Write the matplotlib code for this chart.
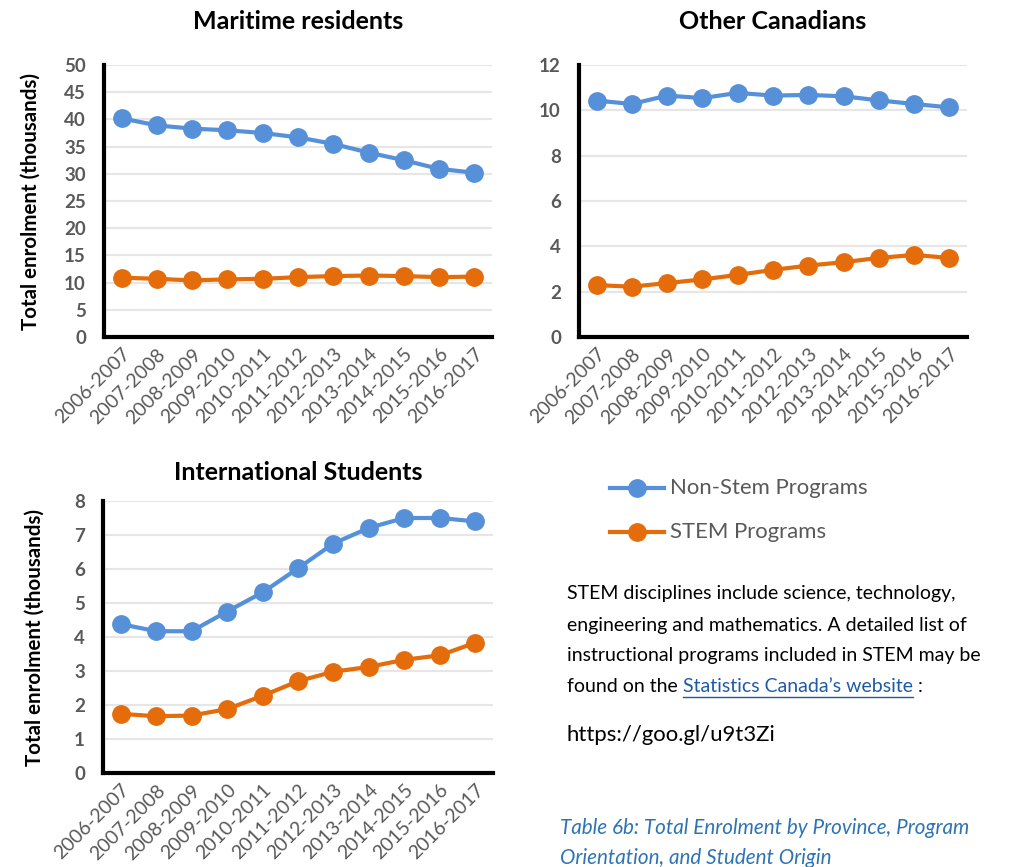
import matplotlib
matplotlib.use("Agg")
import matplotlib.pyplot as plt
from matplotlib.lines import Line2D

years = ["2006-2007", "2007-2008", "2008-2009", "2009-2010", "2010-2011", "2011-2012",
         "2012-2013", "2013-2014", "2014-2015", "2015-2016", "2016-2017"]

maritime_nonstem = [40.2, 38.9, 38.3, 38.0, 37.5, 36.7, 35.5, 33.9, 32.5, 30.9, 30.2]
maritime_stem = [10.9, 10.7, 10.4, 10.6, 10.7, 11.0, 11.2, 11.3, 11.2, 11.0, 11.1]

other_nonstem = [10.43, 10.28, 10.65, 10.54, 10.77, 10.65, 10.68, 10.62, 10.44, 10.28, 10.13]
other_stem = [2.29, 2.22, 2.38, 2.54, 2.74, 2.96, 3.15, 3.30, 3.49, 3.62, 3.49]

intl_nonstem = [4.38, 4.17, 4.17, 4.75, 5.31, 6.02, 6.75, 7.21, 7.50, 7.50, 7.40]
intl_stem = [1.74, 1.67, 1.69, 1.88, 2.27, 2.70, 2.98, 3.12, 3.33, 3.46, 3.83]

series_names = ["Non-Stem Programs", "STEM Programs"]
BLUE = "#5590D8"
ORANGE = "#E46C0A"
GRAY = "#595959"
FONT = ["Lato", "DejaVu Sans"]

plt.rcParams['font.family'] = FONT

W, H = 1009, 867
fig = plt.figure(figsize=(W / 100, H / 100), dpi=100)


def fx(x):
    return x / W


def fy(y):
    return 1 - y / H


def panel(rect_px, title, nonstem, stem, ymax, ystep, ylabel, title_pad):
    l, t, r, b = rect_px
    ax = fig.add_axes([fx(l), fy(b), fx(r - l), (b - t) / H])
    xs = list(range(len(years)))
    for vals, c in ((nonstem, BLUE), (stem, ORANGE)):
        ax.plot(xs, vals, color=c, lw=3, marker="o", ms=12.5, zorder=3, clip_on=False)
    ax.set_xlim(-0.5, len(years) - 0.5)
    ax.set_ylim(0, ymax)
    ticks = list(range(0, ymax + 1, ystep))
    ax.set_yticks(ticks)
    ax.set_yticklabels([str(t) for t in ticks], fontsize=13.5, fontweight="bold", color=GRAY)
    ax.set_xticks(xs)
    ax.set_xticklabels(years, rotation=45, ha="right", rotation_mode="anchor",
                       fontsize=14, color=GRAY)
    ax.tick_params(axis="both", length=0)
    ax.tick_params(axis="y", pad=13)
    ax.tick_params(axis="x", pad=6)
    for tk in ticks[1:]:
        ax.axhline(tk, color="#E6E6E6", lw=1.5, zorder=1)
    for s in ("top", "right"):
        ax.spines[s].set_visible(False)
    for s in ("left", "bottom"):
        ax.spines[s].set_linewidth(3)
        ax.spines[s].set_color("black")
        ax.spines[s].set_zorder(4)
    ax.set_title(title, fontsize=18, fontweight="bold", pad=title_pad, color="black")
    if ylabel:
        ax.set_ylabel(ylabel, fontsize=14.8, fontweight="bold")
    return ax


ax1 = panel((104, 65, 492, 337), "Maritime residents", maritime_nonstem, maritime_stem,
            50, 5, "Total enrolment (thousands)", 26)
ax2 = panel((579, 65, 967, 337), "Other Canadians", other_nonstem, other_stem,
            12, 2, None, 26)
ax3 = panel((103, 501, 493, 773), "International Students", intl_nonstem, intl_stem,
            8, 1, "Total enrolment (thousands)", 15)
ax1.yaxis.set_label_coords(-0.162, 0.5)
ax3.yaxis.set_label_coords(-0.149, 0.5)

# Legend
for (name, c, y) in ((series_names[0], BLUE, 488), (series_names[1], ORANGE, 532)):
    fig.add_artist(Line2D([fx(610), fx(664)], [fy(y), fy(y)], color=c, lw=3,
                          transform=fig.transFigure))
    fig.add_artist(Line2D([fx(637)], [fy(y)], color=c, marker="o", ms=12.5,
                          transform=fig.transFigure))
    fig.text(fx(670), fy(y), name, fontsize=15.9, color=GRAY, va="center", ha="left")

# Notes
NOTE_FS = 14
lines = ["STEM disciplines include science, technology,",
         "engineering and mathematics. A detailed list of",
         "instructional programs included in STEM may be"]
ys = [594, 625, 655]
for s, y in zip(lines, ys):
    fig.text(fx(567), fy(y), s, fontsize=NOTE_FS, color="black", va="center", ha="left")

t1 = fig.text(fx(567), fy(686), "found on the ", fontsize=NOTE_FS, color="black",
              va="center", ha="left")
fig.canvas.draw()
r = fig.canvas.get_renderer()
bb = t1.get_window_extent(r)
link_x = bb.x1
t2 = fig.text(link_x / W, fy(686), "Statistics Canada\u2019s website", fontsize=NOTE_FS,
              color="#1F5AA6", va="center", ha="left")
fig.canvas.draw()
bb2 = t2.get_window_extent(r)
fig.add_artist(Line2D([bb2.x0 / W, bb2.x1 / W], [fy(697), fy(697)], color="#1F5AA6",
                      lw=1, transform=fig.transFigure))
fig.text(bb2.x1 / W, fy(686), " :", fontsize=NOTE_FS, color="black", va="center", ha="left")

fig.text(fx(567), fy(735), "https://goo.gl/u9t3Zi", fontsize=15.9, color="black",
         va="center", ha="left")

fig.text(fx(560), fy(828), "Table 6b: Total Enrolment by Province, Program",
         fontsize=14.9, color="#2E74B5", style="italic", va="center", ha="left")
fig.text(fx(560), fy(858), "Orientation, and Student Origin",
         fontsize=14.9, color="#2E74B5", style="italic", va="center", ha="left")

fig.savefig("out.png", dpi=100)
